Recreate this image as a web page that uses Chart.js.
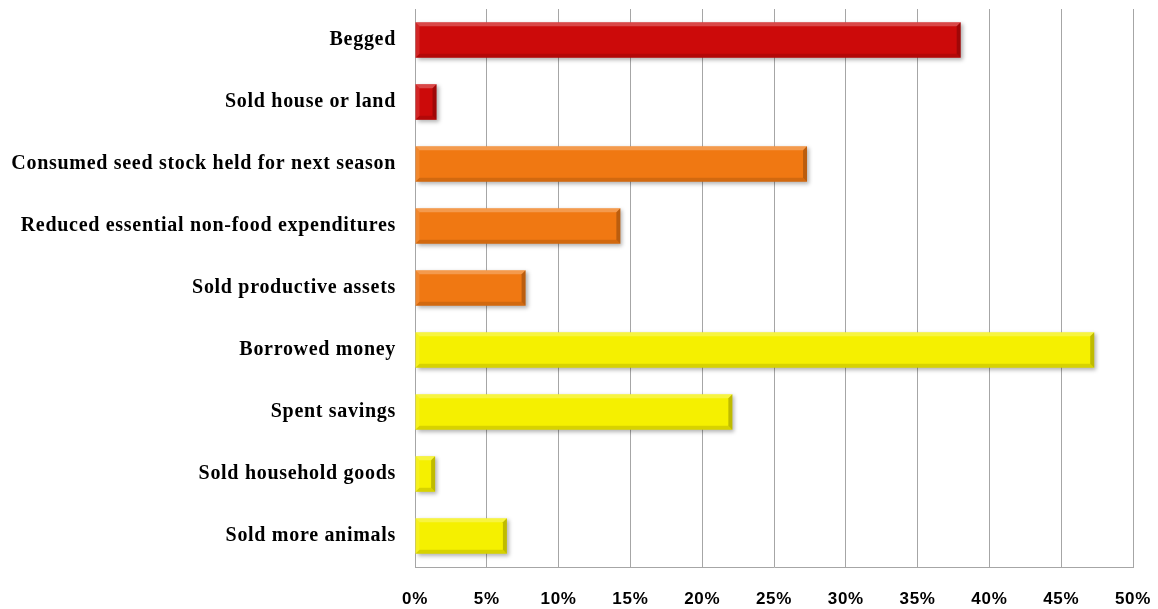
<!DOCTYPE html>
<html>
<head>
<meta charset="utf-8">
<script src="https://cdn.jsdelivr.net/npm/chart.js@4.4.1/dist/chart.umd.min.js"></script>
<style>
  html, body { margin: 0; padding: 0; background: #fff; }
  #wrap { width: 1158px; height: 609px; }
</style>
</head>
<body>
<div id="wrap"><canvas id="myChart"></canvas></div>
<script>
// coping strategies, share of households (%)
const strategies = [
  'Begged',
  'Sold house or land',
  'Consumed seed stock held for next season',
  'Reduced essential non-food expenditures',
  'Sold productive assets',
  'Borrowed money',
  'Spent savings',
  'Sold household goods',
  'Sold more animals'
];
const shares = [38.0, 1.5, 27.3, 14.3, 7.7, 47.3, 22.1, 1.4, 6.4];
const tickSteps = [0, 5, 10, 15, 20, 25, 30, 35, 40, 45, 50];

// red = emergency, orange = crisis, yellow = stress
const barColors = [
  '#CC0A0A', '#CC0A0A',
  '#F07812', '#F07812', '#F07812',
  '#F5F000', '#F5F000', '#F5F000', '#F5F000'
];

// spaced-out label text
const spacing = {
  id: 'spacing',
  beforeDraw(chart) {
    chart.ctx.letterSpacing = '0.7px';
  }
};

// soft drop shadow under the bars
const barShadow = {
  id: 'barShadow',
  beforeDatasetDraw(chart) {
    const ctx = chart.ctx;
    ctx.save();
    ctx.letterSpacing = '0px';
    ctx.shadowColor = 'rgba(0,0,0,0.3)';
    ctx.shadowBlur = 4;
    ctx.shadowOffsetX = 2;
    ctx.shadowOffsetY = 2;
  },
  afterDatasetDraw(chart) {
    chart.ctx.restore();
  }
};

// bevelled edges on each bar
const bevel = {
  id: 'bevel',
  afterDatasetsDraw(chart) {
    const ctx = chart.ctx;
    const b = 4;
    chart.getDatasetMeta(0).data.forEach(bar => {
      const p = bar.getProps(['x', 'y', 'base', 'height'], true);
      const l = p.base, r = p.x, t = p.y - p.height / 2, btm = p.y + p.height / 2;
      const side = (pts, col) => {
        ctx.beginPath();
        ctx.moveTo(pts[0][0], pts[0][1]);
        pts.slice(1).forEach(q => ctx.lineTo(q[0], q[1]));
        ctx.closePath();
        ctx.fillStyle = col;
        ctx.fill();
      };
      ctx.save();
      side([[l, t], [r, t], [r - b, t + b], [l + b, t + b]], 'rgba(255,255,255,0.25)');
      side([[l, t], [l + b, t + b], [l + b, btm - b], [l, btm]], 'rgba(255,255,255,0.12)');
      side([[l, btm], [l + b, btm - b], [r - b, btm - b], [r, btm]], 'rgba(0,0,0,0.12)');
      side([[r, t], [r, btm], [r - b, btm - b], [r - b, t + b]], 'rgba(0,0,0,0.22)');
      ctx.restore();
    });
  }
};

const ctx = document.getElementById('myChart').getContext('2d');
new Chart(ctx, {
  type: 'bar',
  data: {
    labels: strategies,
    datasets: [{
      data: shares,
      backgroundColor: barColors,
      borderWidth: 0,
      barPercentage: 0.575,
      categoryPercentage: 1
    }]
  },
  options: {
    indexAxis: 'y',
    responsive: true,
    maintainAspectRatio: false,
    animation: false,
    layout: { padding: { top: 9, right: 25, bottom: 0, left: 0 } },
    plugins: {
      legend: { display: false },
      tooltip: { enabled: false }
    },
    scales: {
      x: {
        min: 0,
        max: 50,
        afterBuildTicks(scale) {
          scale.ticks = tickSteps.map(v => ({ value: v }));
        },
        afterFit(scale) {
          scale.height = 42;
          scale.paddingLeft = scale.paddingRight = 0;
        },
        grid: { color: '#A6A6A6', lineWidth: 1, drawTicks: false },
        border: { display: true, color: '#A6A6A6' },
        ticks: {
          padding: 22,
          color: '#000',
          font: { family: 'Liberation Sans', weight: 'bold', size: 17 },
          callback: v => v + '%'
        }
      },
      y: {
        afterFit(scale) {
          scale.width = 415;
          scale.paddingTop = scale.paddingBottom = 0;
        },
        grid: { display: false, drawTicks: false },
        border: { display: false },
        ticks: {
          padding: 19,
          color: '#000',
          font: { family: 'Liberation Serif', weight: 'bold', size: 20 }
        }
      }
    }
  },
  plugins: [spacing, barShadow, bevel]
});
</script>
</body>
</html>
